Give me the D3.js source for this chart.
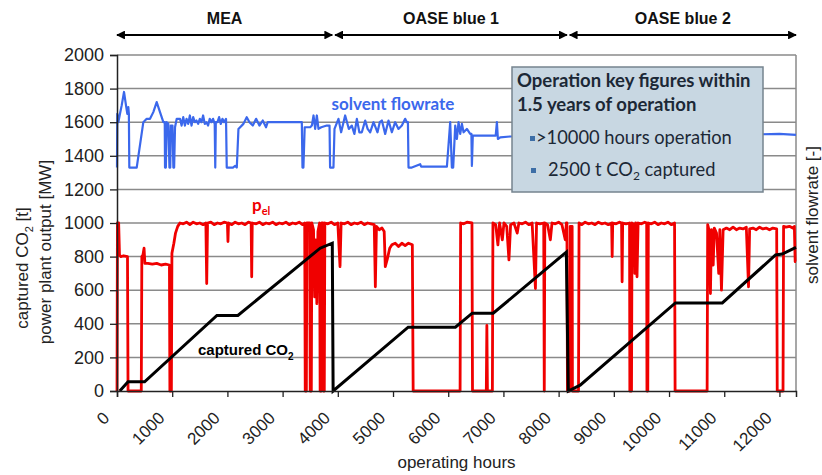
<!DOCTYPE html>
<html>
<head>
<meta charset="utf-8">
<script src="https://cdn.jsdelivr.net/npm/d3@7"></script>
<style>
  body { margin: 0; background: #fff; }
  svg { font-family: Arial, "Liberation Sans", sans-serif; }
</style>
</head>
<body>
<div class="canvas"></div>
<script>
// x ticks / y ticks
const xTicks = [0, 1000, 2000, 3000, 4000, 5000, 6000, 7000, 8000, 9000, 10000, 11000, 12000];
const yTicks = [0, 200, 400, 600, 800, 1000, 1200, 1400, 1600, 1800, 2000];

// campaigns (start hour, end hour, label)
const phases = [
  { name: "MEA", from: 0, to: 3900 },
  { name: "OASE blue 1", from: 3950, to: 8150 },
  { name: "OASE blue 2", from: 8200, to: 12300 }
];

// captured CO2 [t]
const co2 = [
  [50, 0], [200, 55], [500, 55], [1810, 450], [2190, 450], [3400, 775], [3680, 850], [3900, 880],
  [3915, 0], [5275, 380], [6130, 380], [6435, 463], [6815, 463], [8140, 827],
  [8175, 0], [8390, 35], [10115, 524], [10965, 524], [11930, 810], [12050, 815], [12300, 855]
];

// power plant output p_el [MW]
const pel = [
  [0, 0], [8, 1000], [30, 1000], [45, 810], [70, 800], [120, 805], [190, 800], [200, 0], [440, 0],
  [450, 800], [470, 810], [490, 850], [505, 760], [560, 760], [640, 755], [720, 760], [800, 750],
  [880, 755], [950, 750], [958, 0], [985, 0], [995, 820], [1030, 880], [1060, 940], [1100, 980],
  [1140, 1000], [1200, 995], [1260, 1005], [1320, 990], [1380, 1005], [1440, 995], [1500, 1000],
  [1560, 990], [1610, 1000], [1625, 640], [1640, 1000], [1700, 1005], [1760, 990], [1820, 1000],
  [1880, 995], [1940, 1005], [2000, 1000], [2010, 890], [2020, 1000], [2080, 990], [2140, 1005],
  [2200, 995], [2260, 1000], [2320, 990], [2380, 1005], [2430, 1000], [2440, 680], [2450, 1000],
  [2520, 995], [2580, 1005], [2640, 990], [2700, 1000], [2760, 995], [2820, 1005], [2880, 990],
  [2940, 1000], [3000, 995], [3060, 1005], [3120, 990], [3180, 1000], [3240, 995], [3300, 1005],
  [3360, 990], [3400, 1000], [3410, 0], [3430, 0], [3440, 1000], [3490, 1000], [3500, 0], [3520, 0],
  [3530, 1000], [3560, 960], [3580, 560], [3600, 900], [3620, 520], [3640, 950], [3670, 1000],
  [3680, 0], [3700, 0], [3710, 1000], [3730, 1000], [3740, 0], [3755, 0], [3765, 1000], [3820, 995],
  [3880, 1005], [3940, 990], [4000, 1000], [4040, 740], [4060, 1000], [4120, 995], [4180, 1005],
  [4240, 990], [4300, 1000], [4360, 995], [4420, 1005], [4480, 990], [4540, 1000], [4600, 995],
  [4660, 990], [4680, 620], [4700, 980], [4750, 960], [4800, 970], [4840, 950], [4860, 740],
  [4900, 790], [4940, 850], [4980, 870], [5040, 880], [5100, 860], [5160, 880], [5220, 865],
  [5280, 880], [5350, 870], [5365, 0], [6215, 0], [6225, 1000], [6280, 995], [6340, 1005],
  [6430, 1000], [6440, 0], [6690, 0], [6700, 390], [6710, 0], [6800, 0], [6810, 1000], [6860, 990],
  [6900, 870], [6930, 1000], [6980, 900], [7010, 1000], [7060, 980], [7100, 780], [7130, 990],
  [7190, 1000], [7250, 940], [7280, 1000], [7340, 995], [7400, 1005], [7460, 990], [7520, 1000],
  [7580, 610], [7600, 1000], [7660, 995], [7730, 1000], [7740, 0], [7750, 1000], [7800, 990],
  [7850, 900], [7880, 1000], [7940, 995], [8000, 1005], [8060, 990], [8120, 900], [8140, 1000],
  [8150, 1000], [8160, 0], [8200, 0], [8210, 980], [8245, 980], [8250, 0], [8360, 0], [8370, 1000],
  [8420, 990], [8480, 1005], [8540, 995], [8600, 1000], [8660, 990], [8720, 1005], [8780, 995],
  [8840, 1000], [8900, 990], [8960, 1000], [8970, 800], [8980, 1000], [9040, 995], [9100, 1005],
  [9140, 1000], [9150, 650], [9160, 1000], [9220, 995], [9285, 1000], [9290, 0], [9320, 0],
  [9330, 1000], [9370, 990], [9380, 700], [9395, 1000], [9420, 680], [9440, 1000], [9500, 995],
  [9560, 1005], [9595, 1000], [9600, 0], [9615, 0], [9625, 1000], [9680, 995], [9740, 1005],
  [9800, 990], [9860, 1000], [9920, 995], [9980, 1005], [10040, 990], [10100, 1000], [10110, 0],
  [10690, 0], [10700, 990], [10730, 950], [10750, 580], [10770, 960], [10800, 750], [10820, 970],
  [10860, 940], [10900, 700], [10920, 960], [10950, 600], [10980, 960], [11040, 970], [11100, 960],
  [11160, 975], [11220, 960], [11280, 970], [11340, 965], [11400, 975], [11440, 620], [11460, 965],
  [11520, 970], [11580, 960], [11640, 975], [11700, 965], [11760, 970], [11820, 960], [11880, 970],
  [11950, 965], [11960, 0], [12065, 0], [12075, 980], [12120, 975], [12180, 980], [12240, 970],
  [12270, 980], [12285, 770], [12300, 770]
];

// solvent flowrate (drawn on the left scale, right axis has no numbers)
const solvent = [
  [0, 1330], [5, 1650], [24, 1600], [54, 1650], [85, 1700], [127, 1780], [163, 1700], [187, 1650],
  [205, 1690], [215, 1650], [223, 1330], [357, 1330], [477, 1600], [538, 1620], [598, 1620],
  [658, 1660], [719, 1720], [779, 1660], [840, 1600], [865, 1600], [870, 1330], [885, 1330],
  [900, 1600], [930, 1590], [950, 1330], [965, 1330], [975, 1580], [1005, 1580], [1021, 1330],
  [1035, 1330], [1051, 1570], [1082, 1620], [1142, 1620], [1170, 1580], [1200, 1630], [1230, 1580],
  [1260, 1620], [1290, 1590], [1320, 1640], [1350, 1580], [1380, 1630], [1410, 1600], [1440, 1610],
  [1470, 1590], [1500, 1620], [1530, 1600], [1560, 1640], [1590, 1590], [1620, 1600], [1650, 1580],
  [1680, 1620], [1710, 1600], [1740, 1620], [1770, 1590], [1780, 1330], [1790, 1600], [1820, 1600],
  [1850, 1630], [1880, 1590], [1910, 1620], [1940, 1600], [1975, 1620], [1988, 1330], [2100, 1330],
  [2140, 1340], [2170, 1330], [2200, 1560], [2290, 1590], [2350, 1630], [2400, 1600], [2460, 1580],
  [2520, 1620], [2580, 1580], [2640, 1610], [2700, 1570], [2730, 1600], [2804, 1600], [3348, 1600],
  [3360, 1330], [3377, 1330], [3400, 1570], [3500, 1570], [3530, 1580], [3560, 1640], [3590, 1560],
  [3620, 1640], [3650, 1560], [3700, 1570], [3800, 1580], [3850, 1580], [3860, 1330], [3921, 1330],
  [3940, 1560], [4012, 1620], [4060, 1540], [4133, 1640], [4200, 1560], [4254, 1580], [4300, 1530],
  [4345, 1620], [4390, 1540], [4435, 1540], [4496, 1610], [4540, 1560], [4586, 1540], [4647, 1600],
  [4719, 1540], [4760, 1600], [4798, 1610], [4858, 1530], [4918, 1610], [4979, 1540], [5039, 1600],
  [5099, 1560], [5160, 1580], [5220, 1620], [5251, 1600], [5270, 1600], [5281, 1330], [5341, 1330],
  [5492, 1350], [5510, 1335], [5976, 1335], [6036, 1600], [6066, 1330], [6090, 1330], [6127, 1580],
  [6157, 1500], [6187, 1600], [6217, 1530], [6248, 1590], [6278, 1540], [6338, 1560], [6398, 1530],
  [6420, 1530], [6429, 1340], [6445, 1520], [6821, 1520], [6860, 1520], [6882, 1600], [6900, 1500],
  [6942, 1510], [7124, 1515], [9000, 1520], [11000, 1525], [12000, 1530], [12300, 1525]
];

const W = 822, H = 475;
const svg = d3.select(".canvas").append("svg")
  .attr("width", W)
  .attr("height", H);

const x = d3.scaleLinear().domain([0, 12300]).range([117, 796]);
const y = d3.scaleLinear().domain([0, 2000]).range([391, 55]);

// grid
svg.append("g")
  .selectAll("line")
  .data(yTicks.filter(d => d > 0))
  .join("line")
  .attr("x1", x(0)).attr("x2", x(12300))
  .attr("y1", d => y(d)).attr("y2", d => y(d))
  .attr("stroke", "#8a8a8a")
  .attr("stroke-width", 1.5);

// right border
svg.append("line")
  .attr("x1", x(12300)).attr("x2", x(12300))
  .attr("y1", y(2000)).attr("y2", y(0))
  .attr("stroke", "#8a8a8a")
  .attr("stroke-width", 1.5);

const line = d3.line().x(d => x(d[0])).y(d => y(d[1]));

svg.append("path").datum(solvent)
  .attr("d", line)
  .attr("fill", "none")
  .attr("stroke", "#3b68ec")
  .attr("stroke-width", 2.2)
  .attr("stroke-linejoin", "round");

svg.append("path").datum(pel)
  .attr("d", line)
  .attr("fill", "none")
  .attr("stroke", "#f00000")
  .attr("stroke-width", 2.8)
  .attr("stroke-linejoin", "round");

svg.append("path").datum(co2)
  .attr("d", line)
  .attr("fill", "none")
  .attr("stroke", "#000")
  .attr("stroke-width", 3);

// axes
const yAxis = svg.append("g")
  .attr("transform", `translate(${x(0)},0)`)
  .call(d3.axisLeft(y).tickValues(yTicks).tickSize(7).tickPadding(6).tickFormat(d3.format("d")));
yAxis.selectAll("text").attr("font-size", 18).attr("fill", "#222");

const xAxis = svg.append("g")
  .attr("transform", `translate(0,${y(0)})`)
  .call(d3.axisBottom(x).tickValues(xTicks).tickSize(6).tickFormat(d3.format("d")));
xAxis.selectAll("text")
  .attr("font-size", 17)
  .attr("fill", "#222")
  .attr("text-anchor", "end")
  .attr("dy", 0)
  .attr("y", 0)
  .attr("transform", "translate(-7,28) rotate(-45)");

svg.selectAll(".domain").attr("stroke", "#222").attr("stroke-width", 1.5);
svg.selectAll(".tick line").attr("stroke", "#222").attr("stroke-width", 1.3);

// series labels
svg.append("text")
  .attr("x", 393).attr("y", 110)
  .attr("text-anchor", "middle")
  .attr("font-family", "Lato, 'Open Sans', sans-serif")
  .attr("font-weight", "bold")
  .attr("font-size", 17)
  .attr("fill", "#3b68ec")
  .text("solvent flowrate");

const pLab = svg.append("text")
  .attr("x", 252).attr("y", 211)
  .attr("font-family", "Lato, 'Open Sans', sans-serif")
  .attr("font-weight", "bold")
  .attr("font-size", 17)
  .attr("fill", "#f00000")
  .text("p");
pLab.append("tspan").attr("dy", 4).attr("font-size", 11).text("el");

const cLab = svg.append("text")
  .attr("x", 198).attr("y", 355)
  .attr("font-weight", "bold")
  .attr("font-size", 15)
  .attr("fill", "#000")
  .text("captured CO");
cLab.append("tspan").attr("dy", 5).attr("font-size", 10).text("2");

// axis titles
const yl1 = svg.append("text")
  .attr("transform", "translate(28,268) rotate(-90)")
  .attr("text-anchor", "middle")
  .attr("font-size", 17)
  .attr("fill", "#222")
  .text("captured CO");
yl1.append("tspan").attr("dy", 5).attr("font-size", 11).text("2");
yl1.append("tspan").attr("dy", -5).text(" [t]");

svg.append("text")
  .attr("transform", "translate(51,252) rotate(-90)")
  .attr("text-anchor", "middle")
  .attr("font-size", 17)
  .attr("fill", "#222")
  .text("power plant output [MW]");

svg.append("text")
  .attr("transform", "translate(818,215) rotate(-90)")
  .attr("text-anchor", "middle")
  .attr("font-size", 17)
  .attr("fill", "#222")
  .text("solvent flowrate [-]");

svg.append("text")
  .attr("x", x(6150)).attr("y", 468)
  .attr("text-anchor", "middle")
  .attr("font-size", 17)
  .attr("fill", "#222")
  .text("operating hours");

// campaign arrows on top
svg.append("defs").append("marker")
  .attr("id", "ah")
  .attr("viewBox", "0 0 10 10")
  .attr("refX", 9).attr("refY", 5)
  .attr("markerWidth", 4).attr("markerHeight", 4)
  .attr("orient", "auto-start-reverse")
  .append("path")
  .attr("d", "M0,0 L10,5 L0,10 z")
  .attr("fill", "#000");

const ph = svg.append("g").selectAll("g").data(phases).join("g");
ph.append("line")
  .attr("x1", d => x(d.from)).attr("x2", d => x(d.to))
  .attr("y1", 35).attr("y2", 35)
  .attr("stroke", "#000")
  .attr("stroke-width", 2.2)
  .attr("marker-start", "url(#ah)")
  .attr("marker-end", "url(#ah)");
ph.append("text")
  .attr("x", d => (x(d.from) + x(d.to)) / 2)
  .attr("y", 24)
  .attr("text-anchor", "middle")
  .attr("font-weight", "bold")
  .attr("font-size", 16)
  .attr("fill", "#111")
  .text(d => d.name);

// key figures box
const box = svg.append("g").attr("transform", "translate(512,67)");
box.append("rect")
  .attr("width", 251).attr("height", 125)
  .attr("fill", "#c8d7e2")
  .attr("stroke", "#76848f")
  .attr("stroke-width", 1.5);

const boxFont = "Lato, 'Open Sans', sans-serif";
box.append("text")
  .attr("x", 5).attr("y", 20)
  .attr("font-family", boxFont).attr("font-weight", "bold").attr("font-size", 18.5)
  .attr("fill", "#1c2836")
  .text("Operation key figures within");
box.append("text")
  .attr("x", 5).attr("y", 44)
  .attr("font-family", boxFont).attr("font-weight", "bold").attr("font-size", 18.5)
  .attr("fill", "#1c2836")
  .text("1.5 years of operation");

box.append("rect").attr("x", 18).attr("y", 69).attr("width", 5).attr("height", 5).attr("fill", "#3d6ea6");
box.append("text")
  .attr("x", 24).attr("y", 77)
  .attr("font-family", boxFont).attr("font-size", 18.3)
  .attr("fill", "#1c2836")
  .text(">10000 hours operation");

box.append("rect").attr("x", 19).attr("y", 101).attr("width", 5).attr("height", 5).attr("fill", "#3d6ea6");
const l4 = box.append("text")
  .attr("x", 36).attr("y", 109)
  .attr("font-family", boxFont).attr("font-size", 18.3)
  .attr("fill", "#1c2836")
  .text("2500 t CO");
l4.append("tspan").attr("dy", 4).attr("font-size", 12).text("2");
l4.append("tspan").attr("dy", -4).text(" captured");
</script>
</body>
</html>
